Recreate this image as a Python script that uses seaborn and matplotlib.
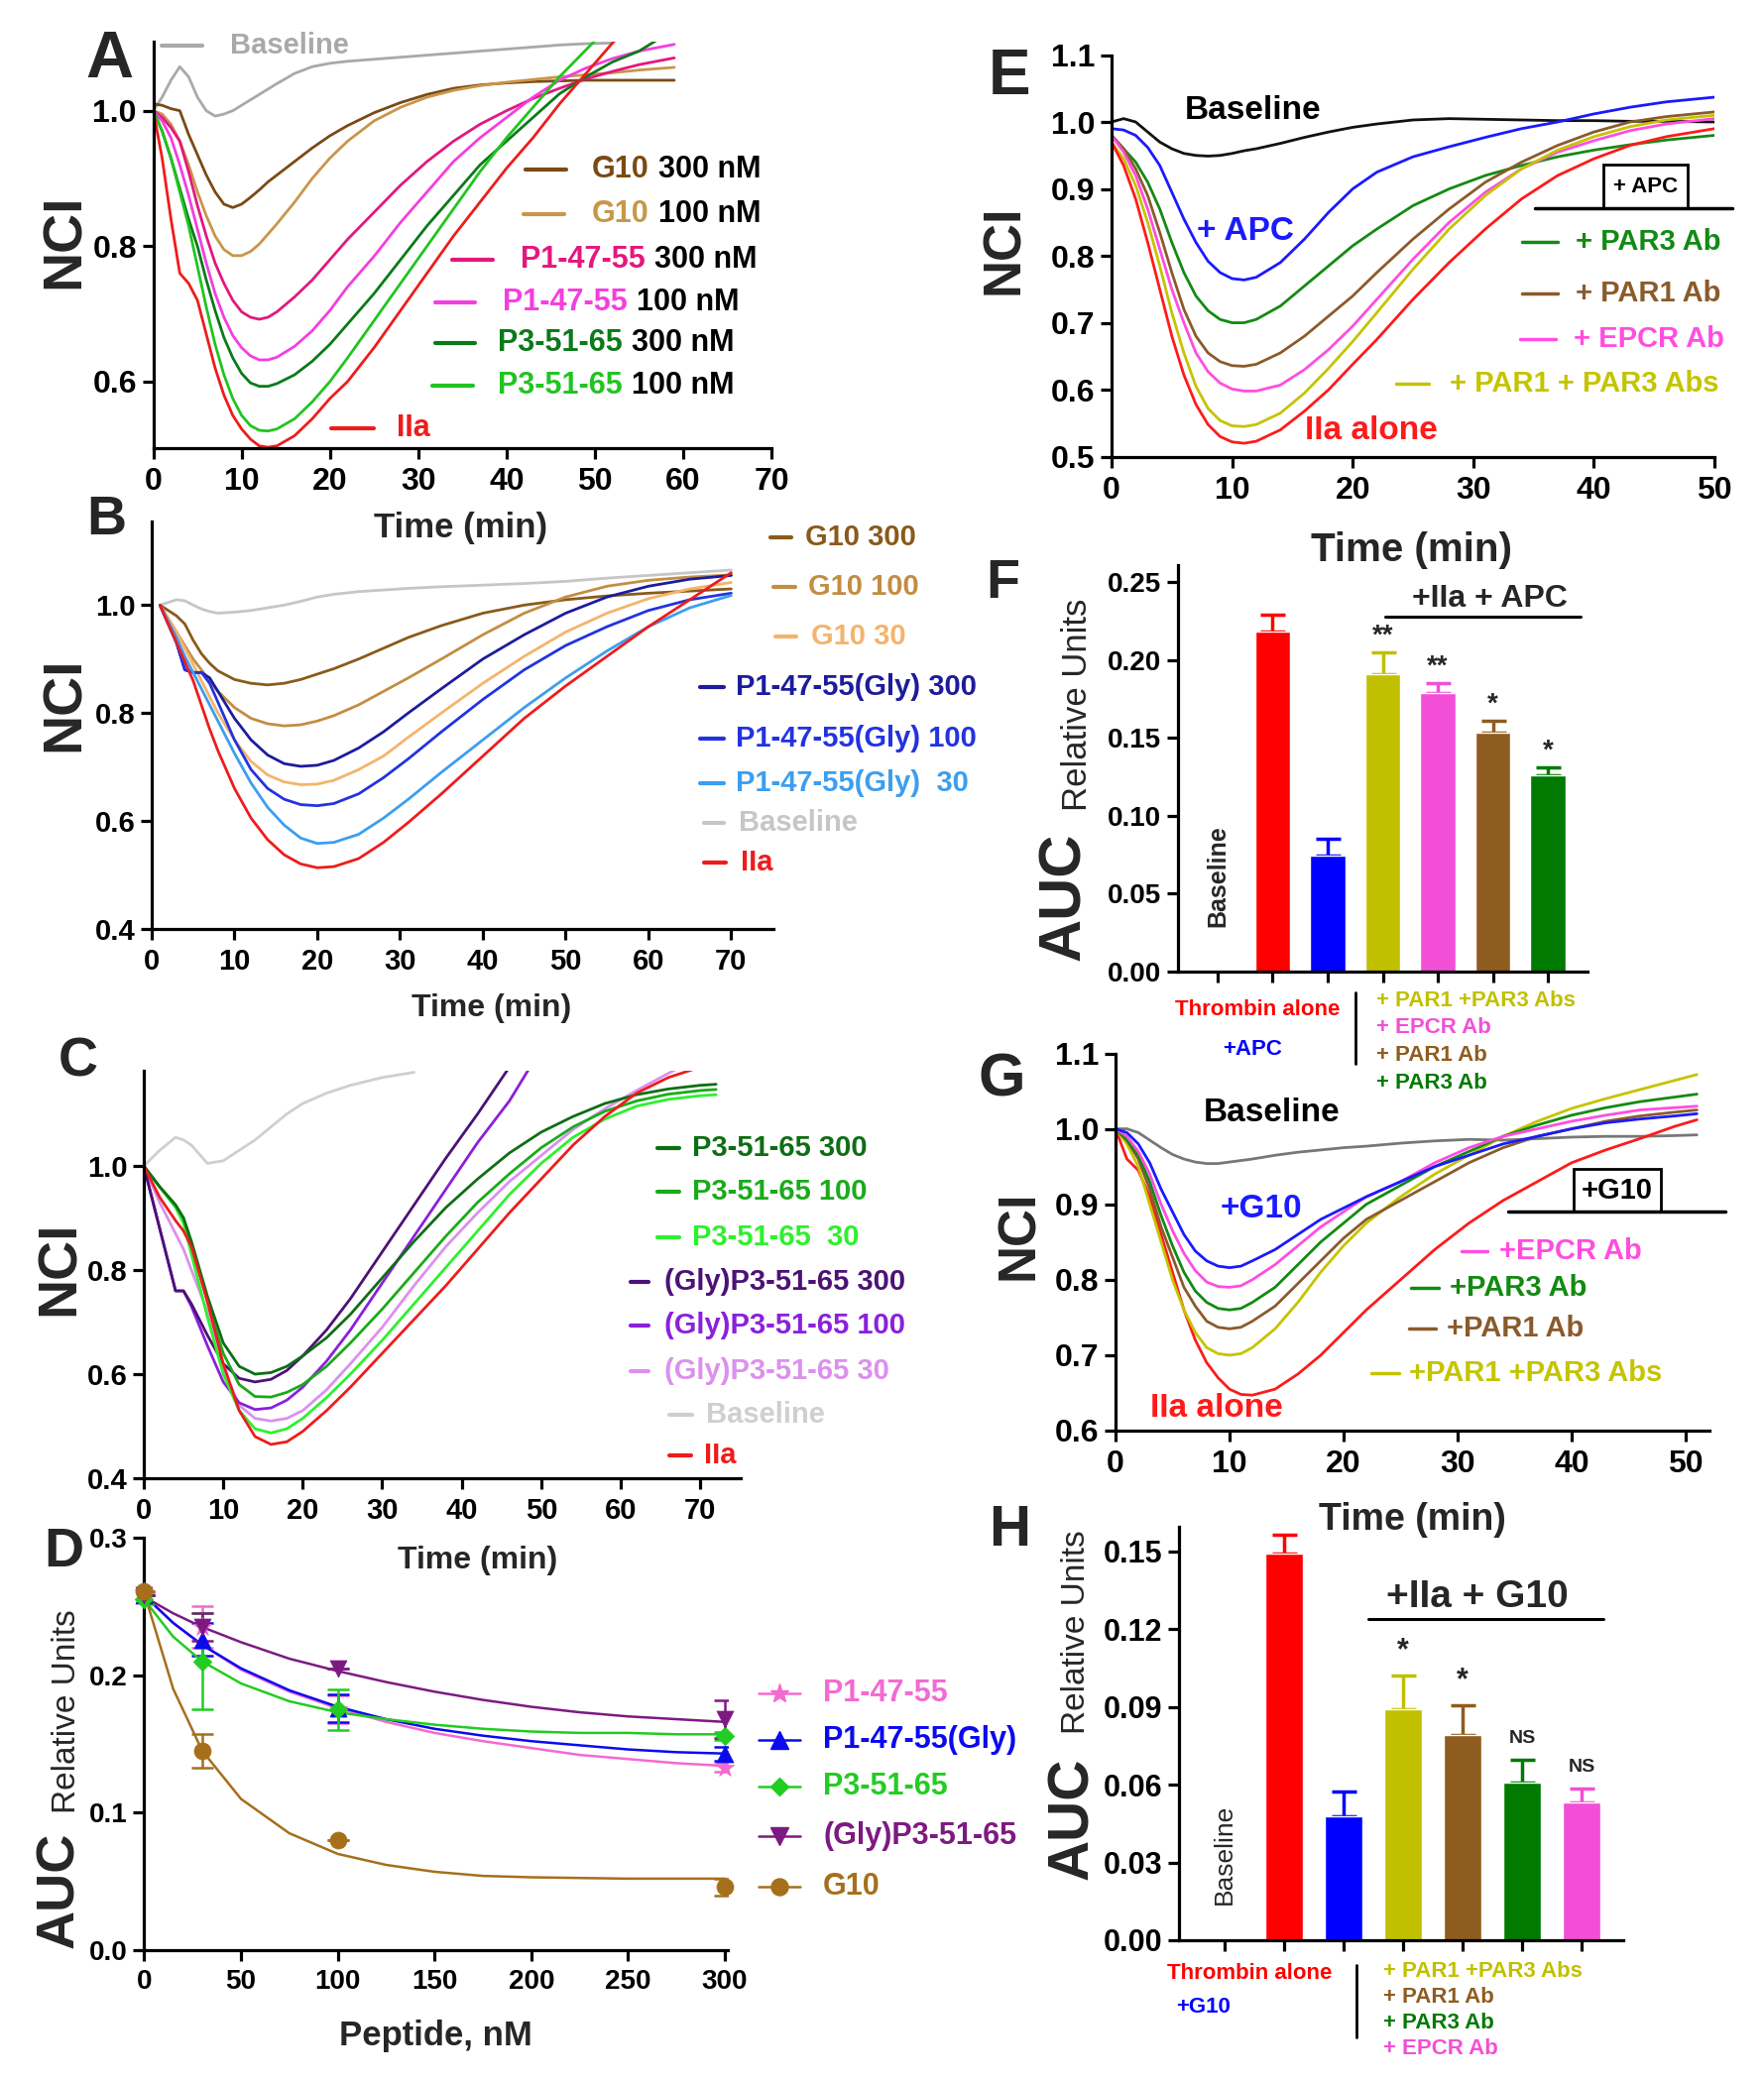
import numpy as np
import matplotlib
matplotlib.use('Agg')
import matplotlib.pyplot as plt
import seaborn as sns
from matplotlib.lines import Line2D
from matplotlib.patches import Rectangle

nan = np.nan

# ---------------- A: NCI time course, 300/100 nM peptides ----------------
t_a = [0, 1, 2, 3, 4, 5, 6, 7, 8, 9, 10, 11, 12, 13, 14, 16, 18, 20, 22, 25,
       28, 31, 34, 37, 40, 43, 46, 49, 52, 55, 59]
a_g10_300 = [1.01, 1.008, 1.003, 1.0, 0.965, 0.935, 0.905, 0.88, 0.862, 0.857, 0.862, 0.872, 0.883, 0.895,
             0.905, 0.925, 0.945, 0.963, 0.978, 0.997, 1.012, 1.024, 1.033, 1.038, 1.041, 1.043, 1.044,
             1.045, 1.045, 1.045, 1.045]
a_g10_100 = [1.0, 0.995, 0.98, 0.955, 0.92, 0.88, 0.845, 0.815, 0.795, 0.786, 0.786, 0.792, 0.803, 0.818,
             0.833, 0.865, 0.9, 0.93, 0.955, 0.985, 1.005, 1.02, 1.03, 1.037, 1.042, 1.046, 1.05, 1.053,
             1.056, 1.06, 1.064]
a_p1_300 = [1.0, 0.99, 0.975, 0.955, 0.91, 0.86, 0.815, 0.775, 0.745, 0.72, 0.703, 0.695, 0.692, 0.695,
            0.703, 0.725, 0.75, 0.78, 0.81, 0.85, 0.89, 0.925, 0.955, 0.98, 1.0, 1.018, 1.033, 1.047,
            1.058, 1.068, 1.078]
a_p1_100 = [1.0, 0.985, 0.96, 0.92, 0.875, 0.825, 0.775, 0.73, 0.695, 0.668, 0.65, 0.638, 0.632, 0.632,
            0.636, 0.652, 0.675, 0.705, 0.74, 0.785, 0.835, 0.88, 0.925, 0.96, 0.99, 1.02, 1.045, 1.063,
            1.077, 1.088, 1.098]
a_p3_300 = [1.0, 0.97, 0.93, 0.885, 0.84, 0.8, 0.75, 0.705, 0.665, 0.635, 0.612, 0.598, 0.593, 0.593,
            0.597, 0.61, 0.63, 0.655, 0.685, 0.73, 0.78, 0.83, 0.875, 0.92, 0.955, 0.99, 1.025, 1.05,
            1.072, 1.088, 1.12]
a_p3_100 = [1.0, 0.97, 0.93, 0.88, 0.83, 0.77, 0.71, 0.655, 0.61, 0.575, 0.55, 0.535, 0.528, 0.527,
            0.53, 0.545, 0.57, 0.6, 0.635, 0.69, 0.745, 0.8, 0.855, 0.91, 0.96, 1.005, 1.05, 1.09,
            1.13, 1.16, 1.2]
a_iia = [1.0, 0.93, 0.84, 0.76, 0.745, 0.72, 0.67, 0.62, 0.58, 0.55, 0.53, 0.515, 0.505, 0.503, 0.505,
         0.52, 0.545, 0.575, 0.6, 0.65, 0.705, 0.76, 0.815, 0.865, 0.915, 0.96, 1.01, 1.055, 1.1, 1.14, 1.19]
a_base = [1.0, 1.02, 1.045, 1.065, 1.05, 1.02, 1.0, 0.992, 0.995, 1.0, 1.008, 1.016, 1.024, 1.032, 1.04,
          1.055, 1.065, 1.07, 1.073, 1.076, 1.079, 1.082, 1.085, 1.088, 1.091, 1.094, 1.097, 1.099, 1.1,
          nan, nan]
a_names = ['G10', 'G10', 'P1-47-55', 'P1-47-55', 'P3-51-65', 'P3-51-65', 'IIa']
a_conc = ['300 nM', '100 nM', '300 nM', '100 nM', '300 nM', '100 nM', '']
a_colors = ['#7a4a14', '#c8964a', '#e4177e', '#f43ee0', '#0b7a1a', '#21c421', '#ee1c1c']

# ---------------- B: G10 / P1-47-55(Gly) ----------------
t_b = [1, 2, 3, 4, 5, 6, 7, 8, 10, 12, 14, 16, 18, 20, 22, 25, 28, 31, 35, 40, 45, 50, 55, 60, 65, 70]
b_g10_300 = [1.0, 0.99, 0.98, 0.965, 0.935, 0.91, 0.892, 0.878, 0.862, 0.855, 0.852, 0.855, 0.862, 0.872,
             0.882, 0.9, 0.92, 0.94, 0.962, 0.985, 1.0, 1.01, 1.017, 1.022, 1.026, 1.03]
b_g10_100 = [1.0, 0.975, 0.95, 0.925, 0.9, 0.88, 0.86, 0.84, 0.81, 0.79, 0.78, 0.776, 0.778, 0.785,
             0.795, 0.815, 0.84, 0.865, 0.9, 0.945, 0.985, 1.015, 1.035, 1.046, 1.052, 1.056]
b_g10_30 = [1.0, 0.975, 0.95, 0.92, 0.89, 0.86, 0.83, 0.8, 0.75, 0.71, 0.685, 0.672, 0.667, 0.668,
            0.675, 0.695, 0.72, 0.755, 0.8, 0.855, 0.905, 0.95, 0.985, 1.012, 1.03, 1.042]
b_gly_300 = [1.0, 0.965, 0.93, 0.88, 0.875, 0.875, 0.865, 0.84, 0.79, 0.75, 0.722, 0.706, 0.701, 0.703,
             0.712, 0.735, 0.765, 0.8, 0.845, 0.9, 0.945, 0.985, 1.015, 1.035, 1.048, 1.055]
b_gly_100 = [1.0, 0.965, 0.93, 0.88, 0.875, 0.875, 0.855, 0.82, 0.75, 0.695, 0.66, 0.64, 0.63, 0.628,
             0.632, 0.65, 0.68, 0.715, 0.765, 0.825, 0.88, 0.925, 0.96, 0.99, 1.01, 1.022]
b_gly_30 = [1.0, 0.97, 0.94, 0.905, 0.875, 0.845, 0.815, 0.785, 0.725, 0.67, 0.625, 0.592, 0.568, 0.558,
            0.56, 0.575, 0.605, 0.64, 0.69, 0.75, 0.81, 0.865, 0.915, 0.96, 0.995, 1.018]
b_base = [1.0, 1.005, 1.01, 1.008, 1.0, 0.993, 0.988, 0.985, 0.987, 0.99, 0.995, 1.0, 1.007, 1.015,
          1.02, 1.025, 1.028, 1.031, 1.034, 1.037, 1.04, 1.044, 1.05, 1.055, 1.06, 1.065]
b_iia = [1.0, 0.965, 0.93, 0.895, 0.86, 0.815, 0.77, 0.73, 0.66, 0.605, 0.565, 0.537, 0.52, 0.513,
         0.515, 0.53, 0.56, 0.597, 0.65, 0.72, 0.79, 0.85, 0.905, 0.96, 1.01, 1.06]
b_labels = ['G10 300', 'G10 100', 'G10 30', 'P1-47-55(Gly) 300', 'P1-47-55(Gly) 100',
            'P1-47-55(Gly)  30', 'Baseline', 'IIa']
b_colors = ['#8a5a1a', '#c38d42', '#f4b46c', '#1c1c9c', '#2233e0', '#3c9ef0', '#c6c6c6', '#ee1c1c']

# ---------------- C: P3-51-65 / (Gly)P3-51-65 ----------------
t_c = [0, 2, 4, 5, 6, 8, 10, 12, 14, 16, 18, 20, 23, 26, 30, 34, 38, 42, 46, 50, 54, 58, 62, 66, 70, 72]
c_p3_300 = [1.0, 0.96, 0.925, 0.9, 0.855, 0.75, 0.66, 0.615, 0.6, 0.603, 0.615, 0.635, 0.67, 0.715,
            0.785, 0.855, 0.92, 0.975, 1.025, 1.065, 1.095, 1.12, 1.137, 1.148, 1.155, 1.157]
c_p3_100 = [1.0, 0.96, 0.925, 0.9, 0.85, 0.74, 0.64, 0.58, 0.557, 0.556, 0.565, 0.58, 0.615, 0.66,
            0.725, 0.795, 0.865, 0.93, 0.985, 1.035, 1.075, 1.105, 1.125, 1.138, 1.145, 1.147]
c_p3_30 = [1.0, 0.96, 0.92, 0.89, 0.83, 0.71, 0.6, 0.53, 0.495, 0.487, 0.495, 0.515, 0.555, 0.6,
           0.665, 0.735, 0.805, 0.875, 0.945, 1.005, 1.055, 1.09, 1.115, 1.128, 1.135, 1.137]
c_gly_300 = [1.0, 0.88, 0.76, 0.76, 0.735, 0.675, 0.62, 0.592, 0.585, 0.59, 0.607, 0.635, 0.685, 0.745,
             0.835, 0.925, 1.015, 1.1, 1.19, nan, nan, nan, nan, nan, nan, nan]
c_gly_100 = [1.0, 0.88, 0.76, 0.76, 0.73, 0.655, 0.585, 0.545, 0.532, 0.535, 0.55, 0.575, 0.625, 0.685,
             0.775, 0.865, 0.955, 1.045, 1.125, 1.225, nan, nan, nan, nan, nan, nan]
c_gly_30 = [1.0, 0.93, 0.87, 0.84, 0.8, 0.72, 0.61, 0.54, 0.515, 0.51, 0.515, 0.53, 0.57, 0.62,
            0.69, 0.77, 0.845, 0.91, 0.97, 1.02, 1.07, 1.11, 1.145, 1.178, 1.21, nan]
c_base = [1.0, 1.03, 1.055, 1.05, 1.04, 1.005, 1.01, 1.03, 1.05, 1.075, 1.1, 1.12, 1.14, 1.155,
          1.17, 1.18, nan, nan, nan, nan, nan, nan, nan, nan, nan, nan]
c_iia = [1.0, 0.94, 0.895, 0.875, 0.845, 0.74, 0.62, 0.53, 0.48, 0.465, 0.47, 0.49, 0.53, 0.575,
         0.64, 0.705, 0.77, 0.84, 0.91, 0.975, 1.04, 1.095, 1.14, 1.17, 1.19, 1.2]
c_labels = ['P3-51-65 300', 'P3-51-65 100', 'P3-51-65  30', '(Gly)P3-51-65 300',
            '(Gly)P3-51-65 100', '(Gly)P3-51-65 30', 'Baseline', 'IIa']
c_colors = ['#0e6e14', '#1aab1a', '#2ef02e', '#4c1275', '#8a20dc', '#dc90ee', '#cfcfcf', '#ee1c1c']

# ---------------- D: AUC vs peptide dose ----------------
d_dose = [0, 30, 100, 300]
d_p1 = [0.26, 0.235, 0.175, 0.133]
d_p1_err = [0.0, 0.015, 0.01, 0.003]
d_p1gly = [0.258, 0.226, 0.176, 0.143]
d_p1gly_err = [0.0, 0.012, 0.01, 0.005]
d_p3 = [0.255, 0.21, 0.175, 0.156]
d_p3_err = [0.003, 0.035, 0.015, 0.003]
d_p3gly = [0.258, 0.235, 0.205, 0.168]
d_p3gly_err = [0.0, 0.01, 0.0, 0.014]
d_g10 = [0.261, 0.145, 0.08, 0.046]
d_g10_err = [0.0, 0.012, 0.0, 0.006]
d_fit_x = [0, 15, 30, 50, 75, 100, 125, 150, 175, 200, 225, 250, 275, 300]
d_fit_p1 = [0.258, 0.238, 0.222, 0.204, 0.188, 0.176, 0.166, 0.158, 0.152, 0.147, 0.142, 0.139, 0.136, 0.134]
d_fit_p1gly = [0.258, 0.238, 0.222, 0.205, 0.189, 0.177, 0.168, 0.161, 0.156, 0.152, 0.149, 0.146, 0.144, 0.143]
d_fit_p3 = [0.255, 0.228, 0.21, 0.194, 0.181, 0.173, 0.168, 0.164, 0.161, 0.159, 0.158, 0.158, 0.157, 0.157]
d_fit_p3gly = [0.257, 0.245, 0.235, 0.224, 0.212, 0.203, 0.195, 0.188, 0.182, 0.177, 0.173, 0.17, 0.168, 0.166]
d_fit_g10 = [0.26, 0.19, 0.145, 0.11, 0.085, 0.07, 0.062, 0.057, 0.054, 0.053, 0.0525, 0.052, 0.052, 0.052]
d_labels = ['P1-47-55', 'P1-47-55(Gly)', 'P3-51-65', '(Gly)P3-51-65', 'G10']
d_colors = ['#f36ad0', '#0a0af0', '#22cc22', '#7d1a82', '#a56f1c']
d_markers = ['*', '^', 'D', 'v', 'o']

# ---------------- E: + APC ----------------
t_e = [0, 1, 2, 3, 4, 5, 6, 7, 8, 9, 10, 11, 12, 14, 16, 18, 20, 22, 25, 28, 31, 34, 37, 40, 43, 46, 50]
e_base = [1.0, 1.005, 1.0, 0.985, 0.97, 0.96, 0.953, 0.95, 0.949, 0.95, 0.953, 0.957, 0.96, 0.968,
          0.977, 0.985, 0.992, 0.997, 1.003, 1.005, 1.004, 1.003, 1.002, 1.002, 1.001, 1.001, 1.0]
e_apc = [0.99, 0.988, 0.98, 0.962, 0.935, 0.895, 0.855, 0.82, 0.792, 0.775, 0.766, 0.764, 0.768, 0.79,
         0.825, 0.865, 0.9, 0.925, 0.948, 0.963, 0.977, 0.99, 1.0, 1.012, 1.022, 1.03, 1.037]
e_par3 = [0.98, 0.96, 0.94, 0.91, 0.87, 0.82, 0.775, 0.74, 0.718, 0.705, 0.7, 0.7, 0.705, 0.725, 0.755,
          0.785, 0.815, 0.84, 0.875, 0.9, 0.92, 0.935, 0.948, 0.958, 0.966, 0.973, 0.98]
e_par1 = [0.98, 0.96, 0.93, 0.89, 0.835, 0.775, 0.72, 0.68, 0.655, 0.642, 0.636, 0.635, 0.638, 0.655,
          0.68, 0.71, 0.74, 0.775, 0.825, 0.87, 0.91, 0.94, 0.965, 0.985, 1.0, 1.008, 1.015]
e_epcr = [0.98, 0.955, 0.92, 0.87, 0.81, 0.75, 0.7, 0.655, 0.627, 0.61, 0.601, 0.598, 0.598, 0.607,
          0.63, 0.66, 0.695, 0.735, 0.795, 0.85, 0.895, 0.93, 0.955, 0.972, 0.987, 0.997, 1.005]
e_par13 = [0.97, 0.945, 0.905, 0.85, 0.785, 0.715, 0.655, 0.605, 0.572, 0.554, 0.546, 0.545, 0.548,
           0.565, 0.595, 0.632, 0.672, 0.715, 0.78, 0.84, 0.89, 0.93, 0.958, 0.978, 0.993, 1.003, 1.01]
e_iia = [0.97, 0.935, 0.885, 0.82, 0.75, 0.68, 0.622, 0.578, 0.548, 0.53, 0.522, 0.52, 0.523, 0.54,
         0.568, 0.6, 0.638, 0.675, 0.735, 0.79, 0.84, 0.885, 0.92, 0.945, 0.965, 0.978, 0.99]

# ---------------- F: AUC, + APC ----------------
f_groups = ['Baseline', 'Thrombin alone', '+APC', '+PAR1 +PAR3 Abs', '+EPCR Ab', '+PAR1 Ab', '+PAR3 Ab']
f_auc = [0.0, 0.218, 0.074, 0.191, 0.179, 0.153, 0.126]
f_sem = [0.0, 0.011, 0.011, 0.014, 0.006, 0.008, 0.005]
f_sig = ['', '', '', '**', '**', '*', '*']
f_colors = ['#ffffff', '#ff0000', '#0000ff', '#c0c000', '#f24fd6', '#8f5c1f', '#007a00']

# ---------------- G: + G10 ----------------
t_g = [0, 1, 2, 3, 4, 5, 6, 7, 8, 9, 10, 11, 12, 14, 16, 18, 20, 22, 25, 28, 31, 34, 37, 40, 43, 46, 49, 51]
g_base = [1.0, 1.0, 0.995, 0.985, 0.975, 0.966, 0.96, 0.956, 0.954, 0.954, 0.956, 0.958, 0.96, 0.965,
          0.969, 0.972, 0.975, 0.977, 0.981, 0.984, 0.986, 0.985, 0.987, 0.989, 0.99, 0.99, 0.991, 0.992]
g_g10 = [1.0, 0.995, 0.98, 0.955, 0.92, 0.89, 0.86, 0.838, 0.825, 0.818, 0.816, 0.818, 0.825, 0.84, 0.86,
         0.88, 0.895, 0.91, 0.93, 0.95, 0.965, 0.98, 0.99, 1.0, 1.008, 1.013, 1.017, 1.02]
g_epcr = [1.0, 0.99, 0.97, 0.94, 0.9, 0.865, 0.835, 0.812, 0.797, 0.791, 0.79, 0.792, 0.8, 0.82, 0.845,
          0.87, 0.89, 0.91, 0.93, 0.955, 0.975, 0.99, 1.0, 1.01, 1.018, 1.025, 1.028, 1.03]
g_par3 = [1.0, 0.985, 0.965, 0.93, 0.885, 0.845, 0.81, 0.785, 0.77, 0.762, 0.76, 0.762, 0.77, 0.79,
          0.82, 0.85, 0.875, 0.9, 0.925, 0.95, 0.97, 0.99, 1.005, 1.018, 1.028, 1.036, 1.042, 1.046]
g_par1 = [1.0, 0.985, 0.96, 0.92, 0.87, 0.83, 0.79, 0.765, 0.745, 0.737, 0.735, 0.737, 0.745, 0.765,
          0.795, 0.825, 0.855, 0.88, 0.905, 0.93, 0.955, 0.975, 0.99, 1.0, 1.01, 1.017, 1.022, 1.025]
g_par13 = [1.0, 0.98, 0.95, 0.9, 0.85, 0.8, 0.76, 0.73, 0.71, 0.702, 0.7, 0.702, 0.71, 0.735, 0.77,
           0.81, 0.845, 0.875, 0.91, 0.94, 0.965, 0.99, 1.01, 1.027, 1.04, 1.052, 1.064, 1.072]
g_iia = [1.0, 0.96, 0.945, 0.91, 0.86, 0.81, 0.76, 0.72, 0.69, 0.67, 0.655, 0.648, 0.647, 0.655, 0.675,
         0.7, 0.73, 0.76, 0.8, 0.84, 0.875, 0.905, 0.93, 0.955, 0.972, 0.987, 1.003, 1.012]

# ---------------- H: AUC, + G10 ----------------
h_groups = ['Baseline', 'Thrombin alone', '+G10', '+PAR1 +PAR3 Abs', '+PAR1 Ab', '+PAR3 Ab', '+EPCR Ab']
h_auc = [0.0, 0.149, 0.048, 0.089, 0.079, 0.061, 0.053]
h_sem = [0.0, 0.0075, 0.0095, 0.013, 0.0117, 0.0086, 0.0055]
h_sig = ['', '', '', '*', '*', 'NS', 'NS']
h_colors = ['#ffffff', '#ff0000', '#0000ff', '#c0c000', '#8f5c1f', '#007a00', '#f24fd6']

RED = '#ff1a1a'
BLUE = '#1a1aff'
GREEN = '#138a13'
BROWN = '#8b5a2b'
PINK = '#ff4de0'
OLIVE = '#c4c400'

# ---------------- figure ----------------
W, H = 1779, 2100
sns.set_theme(style='ticks')
plt.rcParams['font.family'] = ['Liberation Sans', 'DejaVu Sans']
plt.rcParams['font.weight'] = 'bold'
plt.rcParams['axes.facecolor'] = 'white'
plt.rcParams['figure.facecolor'] = 'white'

fig = plt.figure(figsize=(W / 100, H / 100), dpi=100)


def add_ax(l, t, r, b):
    return fig.add_axes([l / W, 1 - b / H, (r - l) / W, (b - t) / H])


def ftext(x, y, s, **kw):
    kw.setdefault('ha', 'center')
    kw.setdefault('va', 'center')
    return fig.text(x / W, 1 - y / H, s, **kw)


def fline(x0, x1, y0, y1, color, lw=2.5, **kw):
    fig.add_artist(Line2D([x0 / W, x1 / W], [1 - y0 / H, 1 - y1 / H], color=color, lw=lw, **kw))


def style_ax(ax, size, xt, yt, fmt, xlim, ylim):
    sns.despine(ax=ax)
    for s in ax.spines.values():
        s.set_linewidth(2.3)
        s.set_color('black')
    ax.tick_params(direction='out', length=8, width=2.3, labelsize=size, colors='black')
    ax.tick_params(axis='x', pad=6)
    ax.tick_params(axis='y', pad=4)
    ax.set_xticks(xt)
    ax.set_yticks(yt)
    ax.set_yticklabels([fmt % v for v in yt])
    ax.set_xlim(*xlim)
    ax.set_ylim(*ylim)
    ax.set_xlabel('')
    ax.set_ylabel('')


def curves(ax, t, series, colors, lw=2.0):
    for vals, c in zip(series, colors):
        sns.lineplot(x=t, y=vals, ax=ax, color=c, lw=lw)


# ---- A ----
ax_a = add_ax(154.6, 42, 778, 451.8)
curves(ax_a, t_a, [a_base], ['#a9a9a9'])
curves(ax_a, t_a, [a_g10_300, a_g10_100, a_p1_300, a_p1_100, a_p3_300, a_p3_100, a_iia], a_colors)
style_ax(ax_a, 23, range(0, 71, 10), [0.6, 0.8, 1.0], '%.1f', (0, 70), (0.502, 1.102))
a_keys = [(530, 571, 597, 171), (528, 569, 597, 216), (456, 497, 525, 262), (439, 479, 507, 305),
          (439, 479, 502, 346), (436, 477, 502, 389), (334, 377, 400, 432)]
for (x0, x1, xt, y), name, conc, c in zip(a_keys, a_names, a_conc, a_colors):
    fline(x0, x1, y, y, c, lw=3)
    t1 = ftext(xt, y, name, ha='left', color=c, fontsize=22)
    if conc:
        ax_a.annotate(conc, xy=(1, 0.5), xycoords=t1, xytext=(7, 0), textcoords='offset points',
                      ha='left', va='center', fontsize=22, color='black')
fline(163, 204, 46, 46, '#a9a9a9', lw=3)
ftext(232, 46, 'Baseline', ha='left', color='#a9a9a9', fontsize=21)
ftext(110, 61, 'A', fontsize=48)
ftext(66, 243, 'NCI', rotation=90, fontsize=40)
ftext(465, 532, 'Time (min)', fontsize=25)

# ---- B ----
ax_b = add_ax(153, 526, 780, 936.7)
curves(ax_b, t_b, [b_base], [b_colors[6]])
curves(ax_b, t_b, [b_g10_300, b_g10_100, b_g10_30, b_gly_300, b_gly_100, b_gly_30, b_iia],
       [b_colors[i] for i in (0, 1, 2, 3, 4, 5, 7)])
style_ax(ax_b, 21, range(0, 71, 10), [0.4, 0.6, 0.8, 1.0], '%.1f', (0, 75.1), (0.4, 1.155))
b_keys = [(777, 798, 812, 542), (780, 802, 815, 592), (782, 803, 818, 642), (706, 730, 742, 693),
          (706, 730, 742, 745), (706, 730, 742, 790), (710, 730, 745, 830), (710, 732, 747, 870)]
for (x0, x1, xt, y), lab, c in zip(b_keys, b_labels, b_colors):
    fline(x0, x1, y, y, c, lw=3)
    ftext(xt, y, lab, ha='left', color=c, fontsize=21)
ftext(107, 525, 'B', fontsize=40)
ftext(66, 710, 'NCI', rotation=90, fontsize=40)
ftext(496, 1017, 'Time (min)', fontsize=23)

# ---- C ----
ax_c = add_ax(145, 1080, 747, 1491)
curves(ax_c, t_c, [c_base], [c_colors[6]])
curves(ax_c, t_c, [c_gly_30, c_gly_100, c_gly_300, c_p3_30, c_p3_100, c_p3_300, c_iia],
       [c_colors[i] for i in (5, 4, 3, 2, 1, 0, 7)])
style_ax(ax_c, 21, range(0, 71, 10), [0.4, 0.6, 0.8, 1.0], '%.1f', (0, 75.1), (0.4, 1.183))
c_keys = [(663, 685, 698, 1158), (663, 685, 698, 1202), (663, 685, 698, 1248), (636, 654, 670, 1293),
          (636, 654, 670, 1337), (636, 654, 670, 1383), (675, 698, 712, 1427), (675, 697, 710, 1468)]
for (x0, x1, xt, y), lab, c in zip(c_keys, c_labels, c_colors):
    fline(x0, x1, y, y, c, lw=3)
    ftext(xt, y, lab, ha='left', color=c, fontsize=21)
ftext(79, 1072, 'C', fontsize=40)
ftext(61, 1279, 'NCI', rotation=90, fontsize=40)
ftext(482, 1574, 'Time (min)', fontsize=23)

# ---- D ----
ax_d = add_ax(145.4, 1551, 734, 1967)
d_fits = [d_fit_p1, d_fit_p1gly, d_fit_p3, d_fit_p3gly, d_fit_g10]
d_pts = [d_p1, d_p1gly, d_p3, d_p3gly, d_g10]
d_errs = [d_p1_err, d_p1gly_err, d_p3_err, d_p3gly_err, d_g10_err]
d_sizes = [200, 150, 90, 150, 150]
for fit, pts, err, c, m, s in zip(d_fits, d_pts, d_errs, d_colors, d_markers, d_sizes):
    sns.lineplot(x=d_fit_x, y=fit, ax=ax_d, color=c, lw=1.8)
    ax_d.errorbar(d_dose, pts, yerr=err, fmt='none', ecolor=c, elinewidth=1.8, capsize=8, capthick=1.8)
    sns.scatterplot(x=d_dose, y=pts, ax=ax_d, color=c, marker=m, s=s, edgecolor=c, linewidth=0.5,
                    zorder=5, clip_on=False)
style_ax(ax_d, 20, range(0, 301, 50), [0.0, 0.1, 0.2, 0.3], '%.1f', (0, 301.5), (0, 0.3))
d_ys = [1708, 1755, 1802, 1852, 1903]
for y, lab, c, m, s in zip(d_ys, d_labels, d_colors, d_markers, d_sizes):
    fline(765, 807, y, y, c, lw=1.8)
    fig.add_artist(Line2D([786 / W], [1 - y / H], marker=m, color=c, ms=np.sqrt(s), mec=c, lw=0))
    ftext(830, y, lab, ha='left', color=c, fontsize=22)
ftext(64, 1566, 'D', fontsize=40)
ftext(60, 1906, 'AUC', rotation=90, fontsize=39)
ftext(68, 1726, 'Relative Units', rotation=90, fontsize=24, fontweight='normal')
ftext(439, 2053, 'Peptide, nM', fontsize=25)

# ---- E ----
ax_e = add_ax(1121, 55.5, 1729, 460.6)
curves(ax_e, t_e, [e_base, e_apc, e_par3, e_par1, e_epcr, e_par13, e_iia],
       ['#111111', BLUE, GREEN, BROWN, PINK, OLIVE, RED])
style_ax(ax_e, 23, range(0, 51, 10), [0.5, 0.6, 0.7, 0.8, 0.9, 1.0, 1.1], '%.1f', (0, 50), (0.5, 1.1))
ax_e.text(11.7, 1.017, 'Baseline', ha='center', va='center', fontsize=24, color='black')
ax_e.text(11.1, 0.836, '+ APC', ha='center', va='center', fontsize=24, color=BLUE)
ax_e.text(21.5, 0.538, 'IIa alone', ha='center', va='center', fontsize=24, color=RED)
ax_e.add_patch(Rectangle((40.8, 0.871), 7.0, 0.065, fill=False, ec='black', lw=2, clip_on=False))
ax_e.plot([35.1, 51.5], [0.871, 0.871], color='black', lw=2.5, clip_on=False)
ax_e.text(44.3, 0.903, '+ APC', ha='center', va='center', fontsize=16, color='black')
e_keys = [(1535, 1571, 1589, 244, '+ PAR3 Ab', GREEN), (1535, 1571, 1589, 296, '+ PAR1 Ab', BROWN),
          (1533, 1569, 1587, 342, '+ EPCR Ab', PINK), (1408, 1441, 1462, 387, '+ PAR1 + PAR3 Abs', OLIVE)]
for x0, x1, xt, y, lab, c in e_keys:
    fline(x0, x1, y, y, c, lw=2.5)
    ftext(xt, y, lab, ha='left', color=c, fontsize=21)
ftext(1018, 78, 'E', fontsize=46)
ftext(1013, 252, 'NCI', rotation=90, fontsize=38)
ftext(1423, 555, 'Time (min)', fontsize=29)


# ---- F / H bars ----
def bar_panel(ax, groups, auc, sem, colors, sig, yt, ylim, xlim, size, sig_size, sig_off):
    sns.barplot(x=groups, y=auc, hue=groups, palette=colors, legend=False, width=0.64,
                saturation=1, errorbar=None, ax=ax, zorder=2)
    for i, (v, e, c) in enumerate(zip(auc, sem, colors)):
        if e > 0:
            ax.errorbar(i, v, yerr=[[0], [e]], fmt='none', ecolor=c, elinewidth=2.5, capsize=9,
                        capthick=2.5, zorder=1)
        if sig[i]:
            ax.annotate(sig[i], xy=(i, v + e), xytext=(0, sig_off), textcoords='offset points',
                        ha='center', va='baseline', fontsize=sig_size if sig[i] != 'NS' else 14)
    style_ax(ax, size, range(len(groups)), yt, '%.2f', xlim, ylim)
    ax.set_xticklabels([])


ax_f = add_ax(1188, 570, 1601, 979.5)
bar_panel(ax_f, f_groups, f_auc, f_sem, f_colors, f_sig, [0.0, 0.05, 0.1, 0.15, 0.2, 0.25],
          (0, 0.261), (-0.72, 6.72), 20, 20, 7)
ax_f.text(0, 0.061, 'Baseline', rotation=90, ha='center', va='center', fontsize=18)
ax_f.plot([3.05, 6.6], [0.2276, 0.2276], color='black', lw=2.2, clip_on=False)
ax_f.text(4.94, 0.2395, '+IIa + APC', ha='center', va='center', fontsize=23)
ftext(1011, 589, 'F', fontsize=40)
ftext(1074, 904, 'AUC', rotation=90, fontsize=43)
ftext(1087, 711, 'Relative Units', rotation=90, fontsize=25, fontweight='normal')
ftext(1268, 1018, 'Thrombin alone', color='#ff0000', fontsize=16)
ftext(1263, 1058, '+APC', color='#0000ff', fontsize=16)
fline(1367, 1367, 1001, 1073, 'black', lw=2)
for y, lab, c in zip([1009.5, 1037, 1064.5, 1092],
                     ['+ PAR1 +PAR3 Abs', '+ EPCR Ab', '+ PAR1 Ab', '+ PAR3 Ab'],
                     [f_colors[3], f_colors[4], f_colors[5], f_colors[6]]):
    ftext(1388, y, lab, ha='left', color=c, fontsize=16)

# ---- G ----
ax_g = add_ax(1125, 1062.5, 1724, 1443)
curves(ax_g, t_g, [g_base, g_iia, g_par13, g_par1, g_par3, g_epcr, g_g10],
       ['#777777', RED, OLIVE, BROWN, GREEN, PINK, BLUE])
style_ax(ax_g, 23, range(0, 51, 10), [0.6, 0.7, 0.8, 0.9, 1.0, 1.1], '%.1f', (0, 52.1), (0.6, 1.1))
ax_g.text(13.7, 1.021, 'Baseline', ha='center', va='center', fontsize=24, color='black')
ax_g.text(12.8, 0.894, '+G10', ha='center', va='center', fontsize=24, color=BLUE)
ax_g.text(8.9, 0.629, 'IIa alone', ha='center', va='center', fontsize=24, color=RED)
ax_g.add_patch(Rectangle((40.2, 0.89), 7.6, 0.057, fill=False, ec='black', lw=2, clip_on=False))
ax_g.plot([34.4, 53.5], [0.89, 0.89], color='black', lw=2.5, clip_on=False)
ax_g.text(44.0, 0.918, '+G10', ha='center', va='center', fontsize=21, color='black')
g_keys = [(1474, 1500, 1512, 1262, '+EPCR Ab', PINK), (1423, 1451, 1462, 1299, '+PAR3 Ab', GREEN),
          (1421, 1448, 1459, 1340, '+PAR1 Ab', BROWN), (1383, 1411, 1421, 1385, '+PAR1 +PAR3 Abs', OLIVE)]
for x0, x1, xt, y, lab, c in g_keys:
    fline(x0, x1, y, y, c, lw=2.5)
    ftext(xt, y, lab, ha='left', color=c, fontsize=21)
ftext(1010, 1090, 'G', fontsize=44)
ftext(1028, 1246, 'NCI', rotation=90, fontsize=38)
ftext(1424, 1533, 'Time (min)', fontsize=27)

# ---- H ----
ax_h = add_ax(1189, 1540, 1637, 1957)
bar_panel(ax_h, h_groups, h_auc, h_sem, h_colors, h_sig, [0.0, 0.03, 0.06, 0.09, 0.12, 0.15],
          (0, 0.1595), (-0.77, 6.7), 22, 22, 12)
ax_h.text(0, 0.033, 'Baseline', rotation=90, ha='center', va='center', fontsize=19, fontweight='normal')
ax_h.plot([2.42, 6.37], [0.124, 0.124], color='black', lw=2.2, clip_on=False)
ax_h.text(4.24, 0.1325, '+IIa + G10', ha='center', va='center', fontsize=28)
ftext(1018, 1544, 'H', fontsize=42)
ftext(1082, 1834, 'AUC', rotation=90, fontsize=41)
ftext(1086, 1646, 'Relative Units', rotation=90, fontsize=24, fontweight='normal')
ftext(1260, 1990, 'Thrombin alone', color='#ff0000', fontsize=16)
ftext(1214, 2024, '+G10', color='#0000ff', fontsize=16)
fline(1368, 1368, 1982, 2055, 'black', lw=2)
for y, lab, c in zip([1989, 2014, 2040, 2066],
                     ['+ PAR1 +PAR3 Abs', '+ PAR1 Ab', '+ PAR3 Ab', '+ EPCR Ab'],
                     [h_colors[3], h_colors[4], h_colors[5], h_colors[6]]):
    ftext(1395, y, lab, ha='left', color=c, fontsize=16)

fig.savefig('out.png', dpi=100)
